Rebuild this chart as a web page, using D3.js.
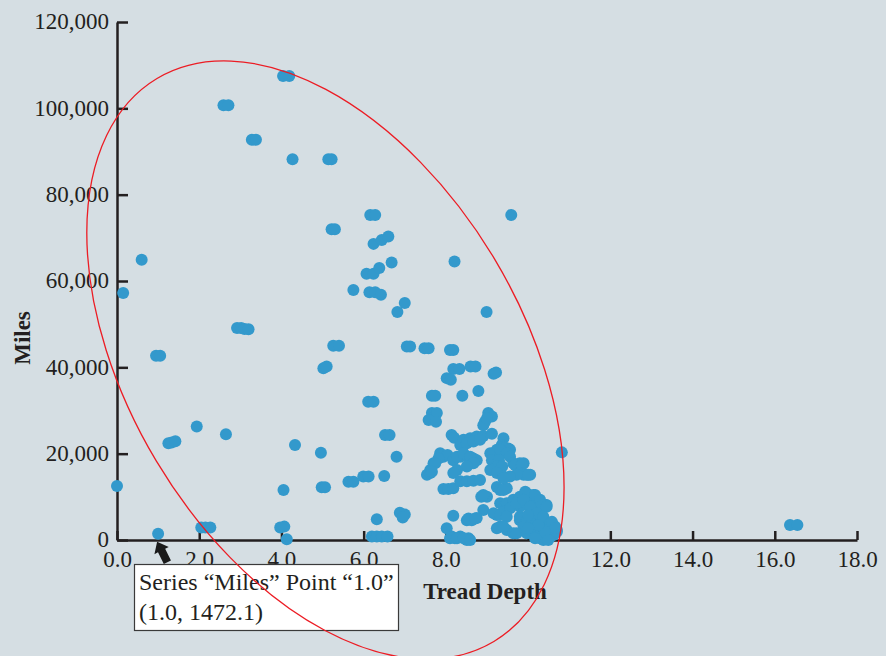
<!DOCTYPE html>
<html>
<head>
<meta charset="utf-8">
<script src="https://cdnjs.cloudflare.com/ajax/libs/d3/7.8.5/d3.min.js"></script>
<style>
  body { margin: 0; background: #d5dee3; }
  svg { display: block; }
  text { font-family: "Liberation Serif", "Times New Roman", serif; fill: #231f20; }
</style>
</head>
<body>
<div id="chart"></div>
<script>
var xTicks = [0, 2, 4, 6, 8, 10, 12, 14, 16, 18];
var yTicks = [0, 20000, 40000, 60000, 80000, 100000, 120000];

// [tread depth, miles]
var scatteredReadings = [
    [0.0, 12500], [0.15, 57200], [0.6, 64900], [0.95, 42700], [1.05, 42700], [1.0, 1472.1],
    [1.25, 22400], [1.33, 22600], [1.42, 22900], [1.94, 26300],
    [2.05, 2900], [2.15, 2900], [2.27, 2900], [2.65, 24500],
    [2.59, 100700], [2.71, 100700], [3.28, 92700], [3.38, 92700],
    [2.92, 49100], [3.02, 49100], [3.1, 48900], [3.2, 48800],
    [4.04, 107500], [4.19, 107500], [4.27, 88200], [5.14, 88200], [5.22, 88200],
    [3.97, 2900], [4.07, 3100], [4.13, 200], [4.05, 11600], [4.33, 22000], [4.96, 20200],
    [4.98, 12200], [5.06, 12200], [5.02, 39800], [5.1, 40200], [5.26, 45000], [5.4, 45000],
    [5.22, 72000], [5.3, 72000], [5.63, 13500], [5.75, 13500], [5.75, 57900],
    [5.99, 14700], [6.12, 14700], [6.5, 14800], [6.11, 32000], [6.24, 32000],
    [6.16, 75300], [6.28, 75300], [6.07, 61700], [6.24, 61700],
    [6.14, 57400], [6.28, 57400], [6.42, 56800],
    [6.24, 68600], [6.44, 69500], [6.6, 70300], [6.38, 63000], [6.68, 64300],
    [6.52, 24300], [6.63, 24300], [6.8, 19300], [7.0, 54900], [6.82, 52800],
    [7.05, 44800], [7.13, 44800], [7.48, 44400], [7.58, 44400], [8.1, 44000], [8.18, 44000],
    [8.21, 64500], [8.99, 52800], [9.59, 75300],
    [6.2, 800], [6.32, 800], [6.44, 800], [6.58, 800], [6.32, 4800],
    [6.88, 6300], [7.0, 5900], [6.95, 5200],
    [16.37, 3500], [16.55, 3500]
];

var clusterReadings = [
    [8.18, 39600], [8.33, 39600], [8.6, 40200], [8.72, 40200], [9.16, 38500], [9.22, 38800],
    [8.02, 37500], [8.12, 37100], [7.66, 33400], [7.74, 33400], [8.4, 33400], [8.79, 34500],
    [7.66, 29400], [7.78, 29400], [7.58, 27800], [7.76, 27400],
    [9.03, 29400], [9.12, 28600], [8.95, 27400], [8.91, 26600], [9.0, 28200],
    [8.14, 24300], [8.2, 23700],
    [8.43, 23200], [8.59, 23600], [8.75, 23950], [8.91, 24100], [9.12, 24600],
    [9.4, 23600], [9.36, 22000], [9.4, 21600], [9.52, 21200],
    [8.35, 22000], [8.51, 22400], [8.67, 22800], [8.83, 23200],
    [7.86, 20100], [7.94, 19300], [7.9, 19700], [8.04, 19700], [7.82, 18900],
    [7.7, 17800], [7.62, 16200], [7.54, 15100], [7.62, 15500], [7.74, 17800], [7.66, 15800],
    [8.18, 18500], [8.35, 19300], [8.51, 19300], [8.67, 18900], [8.75, 18500],
    [8.27, 19300], [8.43, 20100], [8.59, 19300], [8.67, 17800], [8.51, 17000], [8.27, 16200], [8.18, 15500],
    [9.08, 20100], [9.24, 20900], [9.4, 21200], [9.56, 20900],
    [9.16, 20100], [9.32, 20900], [9.48, 20100], [9.56, 19300],
    [9.12, 18500], [9.29, 18500], [9.25, 17000], [9.37, 17000],
    [9.08, 16200], [9.24, 15500], [9.4, 14700],
    [9.72, 17400], [9.89, 17800], [9.64, 17800], [9.8, 17800], [9.68, 17400], [9.85, 17400],
    [9.8, 15500], [9.97, 15100], [10.05, 15100], [9.89, 15100], [9.72, 15100], [9.56, 14700], [9.4, 14300], [10.0, 15100],
    [7.94, 11800], [8.06, 11800], [8.18, 12000],
    [8.35, 13600], [8.51, 13600], [8.67, 13700], [8.83, 13900],
    [8.86, 10000], [9.0, 10000], [8.91, 10400],
    [9.24, 12300], [9.32, 11600], [9.48, 12000], [9.4, 11600],
    [9.32, 8500], [9.48, 8500], [9.64, 9300], [9.8, 10000], [9.97, 10800], [10.13, 10400], [10.21, 9300],
    [9.93, 11200], [10.17, 10400], [10.41, 8100], [10.45, 8100], [10.29, 9300],
    [8.91, 6950],
    [9.24, 5800], [9.4, 6560], [9.56, 7350], [9.16, 6200], [9.32, 5800], [9.48, 5400],
    [8.18, 5600], [8.51, 4600], [8.63, 4600], [8.75, 5100], [8.55, 5000], [8.71, 5000],
    [8.02, 2700],
    [8.1, 400], [8.22, 400], [8.35, 800], [8.51, 0], [8.55, 400], [8.14, 800], [8.27, 400], [8.43, 400], [8.59, 0],
    [9.32, 3100], [9.48, 2300], [9.64, 1550], [9.24, 2700], [9.4, 3100],
    [9.8, 7700], [9.97, 8500], [10.13, 6950], [10.29, 7700], [10.45, 7700],
    [9.8, 4600], [9.97, 3900], [10.13, 4600], [10.29, 3900], [10.45, 3100], [10.62, 3100], [10.7, 2300],
    [10.21, 2300], [10.37, 1550], [10.54, 770], [10.05, 1550], [10.29, 400], [10.45, 400], [10.62, 1160],
    [9.72, 8500], [9.89, 9300], [10.05, 7700], [10.21, 6200], [10.37, 5400], [10.54, 3900], [10.66, 3100],
    [10.45, 2300], [10.29, 770], [10.37, 0], [10.54, 770], [10.7, 1900],
    [9.8, 5400], [9.97, 4600], [9.89, 3100], [9.72, 1550], [9.97, 1550], [10.13, 2300], [10.21, 770],
    [10.58, 4200], [10.66, 2700], [10.41, 1900], [10.25, 3500], [10.0, 5800], [10.0, 2700], [10.17, 400], [10.49, 0],
    [10.82, 20300]
];

var tipPoint = [1.0, 1472.1];
var tipLines = ["Series \u201cMiles\u201d Point \u201c1.0\u201d", "(1.0, 1472.1)"];
var ringCenter = [5.07, 41700];

var width = 886, height = 656;

var svg = d3.select("#chart")
    .append("svg")
    .attr("width", width)
    .attr("height", height);

var x = d3.scaleLinear().domain([0, 18]).range([117, 857]);
var y = d3.scaleLinear().domain([0, 120000]).range([540, 22]);

// axes
var xAxis = svg.append("g")
    .attr("transform", "translate(0," + y(0) + ")")
    .call(d3.axisBottom(x).tickValues(xTicks).tickFormat(d3.format(".1f"))
        .tickSizeInner(-9).tickSizeOuter(0).tickPadding(11));

var yAxis = svg.append("g")
    .attr("transform", "translate(" + x(0) + ",0)")
    .call(d3.axisLeft(y).tickValues(yTicks).tickFormat(d3.format(","))
        .tickSizeInner(-11).tickSizeOuter(0).tickPadding(8));

[xAxis, yAxis].forEach(function (g) {
    g.selectAll("path, line").attr("stroke", "#231f20").attr("stroke-width", 2.5);
    g.selectAll("text").attr("font-size", 23).attr("fill", "#231f20")
        .attr("font-family", "'Liberation Serif', serif");
});
yAxis.selectAll("text").attr("dy", "0.3em");

svg.append("text")
    .attr("text-anchor", "middle")
    .attr("transform", "translate(30,338) rotate(-90)")
    .attr("font-size", 23)
    .attr("font-weight", "bold")
    .text("Miles");

svg.append("text")
    .attr("text-anchor", "middle")
    .attr("x", 485)
    .attr("y", 599)
    .attr("font-size", 23)
    .attr("font-weight", "bold")
    .text("Tread Depth");

// dots
svg.append("g")
    .selectAll("circle")
    .data(scatteredReadings.concat(clusterReadings))
    .enter()
    .append("circle")
    .attr("cx", function (d) { return x(d[0]); })
    .attr("cy", function (d) { return y(d[1]); })
    .attr("r", 6)
    .style("fill", "#3399cc");

// tooltip box and arrow
var tip = svg.append("g");
tip.append("rect")
    .attr("x", 134.5)
    .attr("y", 564.5)
    .attr("width", 264)
    .attr("height", 66)
    .attr("fill", "#ffffff")
    .attr("stroke", "#3a3a3a")
    .attr("stroke-width", 1.2);

tipLines.forEach(function (t, i) {
    tip.append("text")
        .attr("x", 139)
        .attr("y", 590 + i * 30)
        .attr("font-size", 24)
        .text(t);
});

var tx = x(tipPoint[0]) - 1, ty = y(tipPoint[1]) + 8;
var dx = -0.447, dy = -0.894, nx = 0.894, ny = -0.447;
function pt(along, side) {
    return [tx - along * dx + side * nx, ty - along * dy + side * ny];
}
var arrow = [pt(0, 0), pt(10, 8), pt(10, 4), pt(23, 4), pt(23, -4), pt(10, -4), pt(10, -8)];
tip.append("path")
    .attr("d", d3.line()(arrow) + "Z")
    .attr("fill", "#1a1a1a");

// red ring
svg.append("ellipse")
    .attr("cx", 0)
    .attr("cy", 0)
    .attr("rx", 328)
    .attr("ry", 197)
    .attr("transform", "translate(" + x(ringCenter[0]) + "," + y(ringCenter[1]) + ") rotate(59.1)")
    .attr("fill", "none")
    .attr("stroke", "#ec1c24")
    .attr("stroke-width", 1.3);
</script>
</body>
</html>
